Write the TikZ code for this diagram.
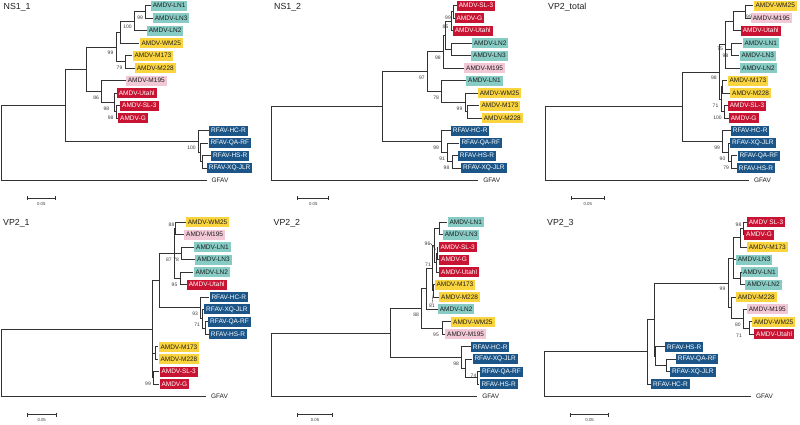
\documentclass[tikz,border=0pt]{standalone}
\usepackage{fontspec}
\setmainfont{Liberation Sans}
\usetikzlibrary{calc,arrows.meta}
\definecolor{cteal}{RGB}{134,203,196}
\definecolor{cyel}{RGB}{250,212,62}
\definecolor{cpink}{RGB}{242,200,214}
\definecolor{cred}{RGB}{200,20,50}
\definecolor{cblue}{RGB}{28,86,136}
\definecolor{linec}{RGB}{50,50,50}
\definecolor{ctext}{RGB}{30,30,30}
\definecolor{cbs}{RGB}{60,60,60}
\tikzset{
  br/.style={draw=linec, line width=1pt},
  ld/.style={draw=linec, line width=0.4pt},
  lf/.style={anchor=west, inner xsep=2pt, inner ysep=0pt, minimum height=10pt, font=\fontsize{6.5}{7}\selectfont},
  lT/.style={lf, fill=cteal, text=ctext},
  lY/.style={lf, fill=cyel, text=ctext},
  lP/.style={lf, fill=cpink, text=ctext},
  lR/.style={lf, fill=cred, text=white},
  lB/.style={lf, fill=cblue, text=white},
  gf/.style={lf, outer xsep=3pt, text=ctext},
  bs/.style={anchor=east, inner sep=0pt, font=\fontsize{5}{5}\selectfont, text=cbs},
  bsc/.style={bs, anchor=center},
  ttl/.style={anchor=west, inner sep=0pt, font=\fontsize{8.8}{10}\selectfont, text=ctext},
  sbar/.style={br, line width=0.9pt, {Bar[width=4pt]}-{Bar[width=4pt]}},
  sbl/.style={inner sep=0pt, font=\fontsize{4.3}{5}\selectfont, text=cbs},
}
\begin{document}
\begin{tikzpicture}[x=1pt,y=-1pt]
\fill[white] (0,0) rectangle (800,424);
\useasboundingbox (0,0) rectangle (800,424);

% ================= Panel 1: NS1_1 =================
\node[ttl] (T1) at (3.5,7) {NS1\_1};
\node[lT] (A1) at (150.7,5.6) {AMDV-LN1};
\node[lT] (A2) at (152.7,18.1) {AMDV-LN3};
\node[lT] (A3) at (146.7,30.6) {AMDV-LN2};
\node[lY] (A4) at (139.3,43.1) {AMDV-WM25};
\node[lY] (A5) at (132.3,55.6) {AMDV-M173};
\node[lY] (A6) at (134.7,68.1) {AMDV-M228};
\node[lP] (A7) at (125.7,80.6) {AMDV-M195};
\node[lR] (A8) at (116.7,93.1) {AMDV-Utahl};
\node[lR] (A9) at (120,105.6) {AMDV-SL-3};
\node[lR] (A10) at (118,118.1) {AMDV-G};
\node[lB] (A11) at (209,130.6) {RFAV-HC-R};
\node[lB] (A12) at (208.3,143.1) {RFAV-QA-RF};
\node[lB] (A13) at (211,155.6) {RFAV-HS-R};
\node[lB] (A14) at (206.7,168.1) {RFAV-XQ-JLR};
\node[gf] (A15) at (206.5,180.6) {GFAV};
\coordinate (a1) at (145.7,11.85);
\coordinate (a2) at (134.3,21.2);
\coordinate (a3) at (120.7,32.15);
\coordinate (a4) at (125,61.85);
\coordinate (a5) at (116,47);
\coordinate (a6) at (116.2,111.85);
\coordinate (a7) at (114.3,102.5);
\coordinate (a8) at (101.7,91.55);
\coordinate (a9) at (86,69.3);
\coordinate (ar3) at (202,161.85);
\coordinate (ar2) at (200,152.5);
\coordinate (ar1) at (198.3,141.55);
\coordinate (aig) at (65,105.4);
\coordinate (art) at (1.7,143);
\draw[br] (a1) |- (A1.west); \draw[br] (a1) |- (A2.west);
\draw[br] (a2) |- (a1); \draw[br] (a2) |- (A3.west);
\draw[br] (a3) |- (a2); \draw[br] (a3) |- (A4.west);
\draw[br] (a4) |- (A5.west); \draw[br] (a4) |- (A6.west);
\draw[br] (a5) |- (a3); \draw[br] (a5) |- (a4);
\draw[br] (a6) |- (A9.west); \draw[br] (a6) |- (A10.west);
\draw[br] (a7) |- (A8.west); \draw[br] (a7) |- (a6);
\draw[br] (a8) |- (A7.west); \draw[br] (a8) |- (a7);
\draw[br] (a9) |- (a5); \draw[br] (a9) |- (a8);
\draw[br] (ar3) |- (A13.west); \draw[br] (ar3) |- (A14.west);
\draw[br] (ar2) |- (A12.west); \draw[br] (ar2) |- (ar3);
\draw[br] (ar1) |- (A11.west); \draw[br] (ar1) |- (ar2);
\draw[br] (aig) |- (a9); \draw[br] (aig) |- (ar1);
\draw[br] (art) |- (aig); \draw[br] (art) |- (A15.west);
\node[bs] (ab1) at ($(a1)+(-2.5,6)$) {99};
\node[bs] (ab2) at ($(a2)+(-2.5,6)$) {100};
\node[bs] (ab3) at ($(a5)+(-2.5,6)$) {99};
\node[bs] (ab4) at ($(a4)+(-2.5,6)$) {79};
\node[bs] (ab5) at ($(a8)+(-2.5,6)$) {86};
\node[bs] (ab6) at ($(a7)+(-5,6)$) {98};
\node[bs] (ab7) at ($(a6)+(-2.5,6)$) {98};
\node[bs] (ab8) at ($(ar1)+(-2.5,6)$) {100};
\coordinate (as1) at (26.7,198); \coordinate (as2) at (56,198);
\draw[sbar] (as1) -- (as2);
\node[sbl] (asl) at (41.3,204.5) {0.05};

% ================= Panel 2: NS1_2 =================
\node[ttl] (T2) at (274,7) {NS1\_2};
\node[lR] (B1) at (456.7,5.6) {AMDV-SL-3};
\node[lR] (B2) at (454.3,18.1) {AMDV-G};
\node[lR] (B3) at (452.7,30.6) {AMDV-Utahl};
\node[lT] (B4) at (471.7,43.1) {AMDV-LN2};
\node[lT] (B5) at (471,55.6) {AMDV-LN3};
\node[lP] (B6) at (464,68.1) {AMDV-M195};
\node[lT] (B7) at (466,80.6) {AMDV-LN1};
\node[lY] (B8) at (477.7,93.1) {AMDV-WM25};
\node[lY] (B9) at (479.3,105.6) {AMDV-M173};
\node[lY] (B10) at (481.7,118.1) {AMDV-M228};
\node[lB] (B11) at (450.7,130.6) {RFAV-HC-R};
\node[lB] (B12) at (459.3,143.1) {RFAV-QA-RF};
\node[lB] (B13) at (457.7,155.6) {RFAV-HS-R};
\node[lB] (B14) at (461,168.1) {RFAV-XQ-JLR};
\node[gf] (B15) at (478.3,180.6) {GFAV};
\coordinate (b1) at (453.5,11.85);
\coordinate (b2) at (451,21.2);
\coordinate (b3) at (451.7,49.35);
\coordinate (b4) at (445,35.3);
\coordinate (b5) at (443.3,51.7);
\coordinate (b6) at (467.3,111.85);
\coordinate (b7) at (465,102.5);
\coordinate (b8) at (441.7,91.55);
\coordinate (b9) at (427.3,71.6);
\coordinate (br3) at (452,161.85);
\coordinate (br2) at (447.7,152.5);
\coordinate (br1) at (441.7,141.55);
\coordinate (big) at (382.7,106.6);
\coordinate (brt) at (271.7,143.6);
\draw[br] (b1) |- (B1.west); \draw[br] (b1) |- (B2.west);
\draw[br] (b2) |- (b1); \draw[br] (b2) |- (B3.west);
\draw[br] (b3) |- (B4.west); \draw[br] (b3) |- (B5.west);
\draw[br] (b4) |- (b2); \draw[br] (b4) |- (b3);
\draw[br] (b5) |- (b4); \draw[br] (b5) |- (B6.west);
\draw[br] (b6) |- (B9.west); \draw[br] (b6) |- (B10.west);
\draw[br] (b7) |- (B8.west); \draw[br] (b7) |- (b6);
\draw[br] (b8) |- (B7.west); \draw[br] (b8) |- (b7);
\draw[br] (b9) |- (b5); \draw[br] (b9) |- (b8);
\draw[br] (br3) |- (B13.west); \draw[br] (br3) |- (B14.west);
\draw[br] (br2) |- (B12.west); \draw[br] (br2) |- (br3);
\draw[br] (br1) |- (B11.west); \draw[br] (br1) |- (br2);
\draw[br] (big) |- (b9); \draw[br] (big) |- (br1);
\draw[br] (brt) |- (big); \draw[br] (brt) |- (B15.west);
\node[bs] (bb1) at ($(b1)+(-2.5,6)$) {99};
\node[bs] (bb2) at ($(b2)+(-2.5,6)$) {85};
\node[bs] (bb3) at ($(b5)+(-2.5,6)$) {98};
\node[bs] (bb4) at ($(b9)+(-2.5,6)$) {97};
\node[bs] (bb5) at ($(b8)+(-2.5,6)$) {78};
\node[bs] (bb6) at ($(b7)+(-2.5,6)$) {99};
\node[bs] (bb7) at ($(br1)+(-2.5,6)$) {99};
\node[bs] (bb8) at ($(br2)+(-2.5,6)$) {91};
\node[bs] (bb9) at ($(br3)+(-2.5,6)$) {98};
\coordinate (bs1) at (297.3,198); \coordinate (bs2) at (329.3,198);
\draw[sbar] (bs1) -- (bs2);
\node[sbl] (bsl) at (313.3,204.5) {0.05};

% ================= Panel 3: VP2_total =================
\node[ttl] (T3) at (548,7) {VP2\_total};
\node[lY] (C1) at (753.3,5.6) {AMDV-WM25};
\node[lP] (C2) at (750.7,18.1) {AMDV-M195};
\node[lR] (C3) at (740.7,30.6) {AMDV-Utahl};
\node[lT] (C4) at (742.3,43.1) {AMDV-LN1};
\node[lT] (C5) at (739.3,55.6) {AMDV-LN3};
\node[lT] (C6) at (740,68.1) {AMDV-LN2};
\node[lY] (C7) at (727.3,80.6) {AMDV-M173};
\node[lY] (C8) at (730,93.1) {AMDV-M228};
\node[lR] (C9) at (727.7,105.6) {AMDV-SL-3};
\node[lR] (C10) at (728.7,118.1) {AMDV-G};
\node[lB] (C11) at (730.7,130.6) {RFAV-HC-R};
\node[lB] (C12) at (730,143.1) {RFAV-XQ-JLR};
\node[lB] (C13) at (737.3,155.6) {RFAV-QA-RF};
\node[lB] (C14) at (736.7,168.1) {RFAV-HS-R};
\node[gf] (C15) at (749,180.6) {GFAV};
\coordinate (c1) at (745,11.85);
\coordinate (c2) at (733.3,21.2);
\coordinate (c3) at (731,49.35);
\coordinate (cf) at (725.5,44.65);
\coordinate (ck) at (722.7,86.85);
\coordinate (cl) at (724.3,111.85);
\coordinate (cg) at (721,99.35);
\coordinate (cam) at (719.3,72);
\coordinate (cm) at (731.7,161.85);
\coordinate (cn) at (728,152.5);
\coordinate (co) at (722.7,141.55);
\coordinate (cig) at (682.7,106.8);
\coordinate (crt) at (545,143.7);
\draw[br] (c1) |- (C1.west); \draw[br] (c1) |- (C2.west);
\draw[br] (c2) |- (c1); \draw[br] (c2) |- (C3.west);
\draw[br] (c3) |- (C4.west); \draw[br] (c3) |- (C5.west);
\draw[br] (cf) |- (c2); \draw[br] (cf) |- (c3); \draw[br] (cf) |- (C6.west);
\draw[br] (ck) |- (C7.west); \draw[br] (ck) |- (C8.west);
\draw[br] (cl) |- (C9.west); \draw[br] (cl) |- (C10.west);
\draw[br] (cg) |- (ck); \draw[br] (cg) |- (cl);
\draw[br] (cam) |- (cf); \draw[br] (cam) |- (cg);
\draw[br] (cm) |- (C13.west); \draw[br] (cm) |- (C14.west);
\draw[br] (cn) |- (C12.west); \draw[br] (cn) |- (cm);
\draw[br] (co) |- (C11.west); \draw[br] (co) |- (cn);
\draw[br] (cig) |- (cam); \draw[br] (cig) |- (co);
\draw[br] (crt) |- (cig); \draw[br] (crt) |- (C15.west);
\node[bsc] (cb1) at (749,16.3) {99};
\node[bs] (cb2) at ($(c3)+(-2.5,6)$) {98};
\node[bs] (cb3) at ($(cf)+(-2.5,4)$) {75};
\node[bs] (cb4) at ($(cam)+(-2.5,6)$) {98};
\node[bs] (cb5) at ($(cg)+(-2.5,6)$) {71};
\node[bs] (cb6) at ($(cl)+(-2.5,6)$) {100};
\node[bs] (cb7) at ($(co)+(-2.5,6)$) {99};
\node[bs] (cb8) at ($(cn)+(-2.5,6)$) {90};
\node[bs] (cb9) at ($(cm)+(-2.5,6)$) {79};
\coordinate (cs1) at (570.7,198); \coordinate (cs2) at (605,198);
\draw[sbar] (cs1) -- (cs2);
\node[sbl] (csl) at (587.8,204.5) {0.05};

% ================= Panel 4: VP2_1 =================
\node[ttl] (T4) at (3,223.5) {VP2\_1};
\node[lY] (D1) at (185.7,222.3) {AMDV-WM25};
\node[lP] (D2) at (184,234.75) {AMDV-M195};
\node[lT] (D3) at (194,247.2) {AMDV-LN1};
\node[lT] (D4) at (195,259.65) {AMDV-LN3};
\node[lT] (D5) at (193.3,272.1) {AMDV-LN2};
\node[lR] (D6) at (186.7,284.55) {AMDV-Utahl};
\node[lB] (D7) at (209.3,297) {RFAV-HC-R};
\node[lB] (D8) at (204,309.45) {RFAV-XQ-JLR};
\node[lB] (D9) at (208,321.9) {RFAV-QA-RF};
\node[lB] (D10) at (208.7,334.35) {RFAV-HS-R};
\node[lY] (D11) at (158.3,346.8) {AMDV-M173};
\node[lY] (D12) at (158.3,359.25) {AMDV-M228};
\node[lR] (D13) at (159.3,371.7) {AMDV-SL-3};
\node[lR] (D14) at (159.3,384.15) {AMDV-G};
\node[gf] (D15) at (206,396.6) {GFAV};
\coordinate (dp) at (175.7,228.5);
\coordinate (dq) at (181.7,253.4);
\coordinate (ds) at (180,278.3);
\coordinate (du) at (174.3,253.4);
\coordinate (dw3) at (205.7,328.1);
\coordinate (dw2) at (202.7,318.8);
\coordinate (dw) at (200.7,307.9);
\coordinate (dv) at (159.3,280.65);
\coordinate (dy1) at (155,353);
\coordinate (dy2) at (153.5,377.9);
\coordinate (dig) at (152.3,329.3);
\coordinate (drt) at (1.7,363);
\draw[br] (dp) |- (D1.west); \draw[br] (dp) |- (D2.west);
\draw[br] (dq) |- (D3.west); \draw[br] (dq) |- (D4.west);
\draw[br] (ds) |- (D5.west); \draw[br] (ds) |- (D6.west);
\draw[br] (du) |- (dp); \draw[br] (du) |- (dq); \draw[br] (du) |- (ds);
\draw[br] (dw3) |- (D9.west); \draw[br] (dw3) |- (D10.west);
\draw[br] (dw2) |- (D8.west); \draw[br] (dw2) |- (dw3);
\draw[br] (dw) |- (D7.west); \draw[br] (dw) |- (dw2);
\draw[br] (dv) |- (du); \draw[br] (dv) |- (dw);
\draw[br] (dy1) |- (D11.west); \draw[br] (dy1) |- (D12.west);
\draw[br] (dy2) |- (D13.west); \draw[br] (dy2) |- (D14.west);
\draw[br] (dig) |- (dv); \draw[br] (dig) |- (dy1); \draw[br] (dig) |- (dy2);
\draw[br] (drt) |- (dig); \draw[br] (drt) |- (D15.west);
\node[bsc] (db1) at (171.5,225) {88};
\node[bs] (db2) at ($(dq)+(-2.5,6)$) {78};
\node[bs] (db3) at ($(ds)+(-2.5,6)$) {95};
\node[bs] (db4) at ($(du)+(-2.5,6)$) {87};
\node[bs] (db5) at ($(dw)+(-2.5,6)$) {93};
\node[bs] (db6) at ($(dw2)+(-2.5,6)$) {71};
\node[bs] (db7) at ($(dy2)+(-2.5,6)$) {99};
\coordinate (ds1) at (26.7,414.5); \coordinate (ds2) at (56.7,414.5);
\draw[sbar] (ds1) -- (ds2);
\node[sbl] (dsl) at (41.7,420.5) {0.05};

% ================= Panel 5: VP2_2 =================
\node[ttl] (T5) at (273.5,223.5) {VP2\_2};
\node[lT] (E1) at (447.3,222.3) {AMDV-LN1};
\node[lT] (E2) at (442.7,234.75) {AMDV-LN3};
\node[lR] (E3) at (438.3,247.2) {AMDV-SL-3};
\node[lR] (E4) at (439,259.65) {AMDV-G};
\node[lR] (E5) at (439,272.1) {AMDV-Utahl};
\node[lY] (E6) at (434.3,284.55) {AMDV-M173};
\node[lY] (E7) at (439,297) {AMDV-M228};
\node[lT] (E8) at (437.7,309.45) {AMDV-LN2};
\node[lY] (E9) at (451,321.9) {AMDV-WM25};
\node[lP] (E10) at (445,334.35) {AMDV-M195};
\node[lB] (E11) at (470.7,346.8) {RFAV-HC-R};
\node[lB] (E12) at (472.3,359.25) {RFAV-XQ-JLR};
\node[lB] (E13) at (480,371.7) {RFAV-QA-RF};
\node[lB] (E14) at (479.3,384.15) {RFAV-HS-R};
\node[gf] (E15) at (477.3,396.6) {GFAV};
\coordinate (eAF) at (439,228.5);
\coordinate (eAG) at (437.3,253.4);
\coordinate (eAH) at (436,262.75);
\coordinate (eAE) at (434.5,245.6);
\coordinate (eAM) at (433.5,290.8);
\coordinate (eAD) at (432,268.2);
\coordinate (eAC) at (426,288.8);
\coordinate (eAB) at (442.5,328.1);
\coordinate (eAA) at (421.7,308.5);
\coordinate (eR3) at (477.5,377.9);
\coordinate (eR2) at (465.5,368.6);
\coordinate (eRR) at (461.7,357.7);
\coordinate (eig) at (390,333.1);
\coordinate (ert) at (271.7,364.85);
\draw[br] (eAF) |- (E1.west); \draw[br] (eAF) |- (E2.west);
\draw[br] (eAG) |- (E3.west); \draw[br] (eAG) |- (E4.west);
\draw[br] (eAH) |- (eAG); \draw[br] (eAH) |- (E5.west);
\draw[br] (eAE) |- (eAF); \draw[br] (eAE) |- (eAH);
\draw[br] (eAM) |- (E6.west); \draw[br] (eAM) |- (E7.west);
\draw[br] (eAD) |- (eAE); \draw[br] (eAD) |- (eAM);
\draw[br] (eAC) |- (eAD); \draw[br] (eAC) |- (E8.west);
\draw[br] (eAB) |- (E9.west); \draw[br] (eAB) |- (E10.west);
\draw[br] (eAA) |- (eAC); \draw[br] (eAA) |- (eAB);
\draw[br] (eR3) |- (E13.west); \draw[br] (eR3) |- (E14.west);
\draw[br] (eR2) |- (E12.west); \draw[br] (eR2) |- (eR3);
\draw[br] (eRR) |- (E11.west); \draw[br] (eRR) |- (eR2);
\draw[br] (eig) |- (eAA); \draw[br] (eig) |- (eRR);
\draw[br] (ert) |- (eig); \draw[br] (ert) |- (E15.west);
\node[bsc] (eb1) at (427.5,243.3) {96};
\coordinate (eL1) at (435.8,249.5);
\draw[ld] (eb1.east) -- (eL1);
\node[bsc] (eb2) at (428,264.3) {71};
\node[bsc] (eb3) at (432,305.5) {81};
\draw[ld] (eb3.north) -- (eAM);
\node[bs] (eb4) at ($(eAA)+(-2.5,6)$) {88};
\node[bs] (eb5) at ($(eAB)+(-3.5,7)$) {95};
\node[bs] (eb6) at ($(eRR)+(-2.5,6)$) {98};
\node[bsc] (eb7) at (473.5,376) {74};
\coordinate (es1) at (297.3,414.5); \coordinate (es2) at (332.7,414.5);
\draw[sbar] (es1) -- (es2);
\node[sbl] (esl) at (315,420.5) {0.05};

% ================= Panel 6: VP2_3 =================
\node[ttl] (T6) at (547,223.5) {VP2\_3};
\node[lR] (F1) at (746.7,222.3) {AMDV SL-3};
\node[lR] (F2) at (744,234.75) {AMDV-G};
\node[lY] (F3) at (746.7,247.2) {AMDV-M173};
\node[lT] (F4) at (735.7,259.65) {AMDV-LN3};
\node[lT] (F5) at (741,272.1) {AMDV-LN1};
\node[lT] (F6) at (745,284.55) {AMDV-LN2};
\node[lY] (F7) at (735.7,297) {AMDV-M228};
\node[lP] (F8) at (746.7,309.45) {AMDV-M195};
\node[lY] (F9) at (751.7,321.9) {AMDV-WM25};
\node[lR] (F10) at (754,334.35) {AMDV-Utahl};
\node[lB] (F11) at (665,346.8) {RFAV-HS-R};
\node[lB] (F12) at (675.7,359.25) {RFAV-QA-RF};
\node[lB] (F13) at (670,371.7) {RFAV-XQ-JLR};
\node[lB] (F14) at (651,384.15) {RFAV-HC-R};
\node[gf] (F15) at (751,396.6) {GFAV};
\coordinate (fS1) at (743,228.5);
\coordinate (fS2) at (740,237.9);
\coordinate (fS3) at (740.5,278.3);
\coordinate (fS4) at (733.3,258.1);
\coordinate (fU1) at (749,328.1);
\coordinate (fU2) at (743.3,318.8);
\coordinate (fU3) at (731.7,307.9);
\coordinate (fAM) at (728,283);
\coordinate (fRF2) at (666,365.5);
\coordinate (fRF1) at (655.5,356.1);
\coordinate (fZ) at (654.3,319.6);
\coordinate (fIG) at (647.3,351.9);
\coordinate (frt) at (544.3,374.2);
\draw[br] (fS1) |- (F1.west); \draw[br] (fS1) |- (F2.west);
\draw[br] (fS2) |- (fS1); \draw[br] (fS2) |- (F3.west);
\draw[br] (fS3) |- (F5.west); \draw[br] (fS3) |- (F6.west);
\draw[br] (fS4) |- (fS2); \draw[br] (fS4) |- (F4.west); \draw[br] (fS4) |- (fS3);
\draw[br] (fU1) |- (F9.west); \draw[br] (fU1) |- (F10.west);
\draw[br] (fU2) |- (F8.west); \draw[br] (fU2) |- (fU1);
\draw[br] (fU3) |- (F7.west); \draw[br] (fU3) |- (fU2);
\draw[br] (fAM) |- (fS4); \draw[br] (fAM) |- (fU3);
\draw[br] (fRF2) |- (F12.west); \draw[br] (fRF2) |- (F13.west);
\draw[br] (fRF1) |- (F11.west); \draw[br] (fRF1) |- (fRF2);
\draw[br] (fZ) |- (fAM); \draw[br] (fZ) |- (fRF1);
\draw[br] (fIG) |- (fZ); \draw[br] (fIG) |- (F14.west);
\draw[br] (frt) |- (fIG); \draw[br] (frt) |- (F15.west);
\node[bsc] (fb1) at (738.5,224.5) {98};
\node[bs] (fb2) at ($(fAM)+(-2.5,6)$) {99};
\node[bs] (fb3) at ($(fU2)+(-2.5,6)$) {80};
\node[bsc] (fb4) at (739,335.5) {71};
\coordinate (fs1) at (570,414.5); \coordinate (fs2) at (609.3,414.5);
\draw[sbar] (fs1) -- (fs2);
\node[sbl] (fsl) at (589.6,420.5) {0.05};
\end{tikzpicture}
\end{document}
